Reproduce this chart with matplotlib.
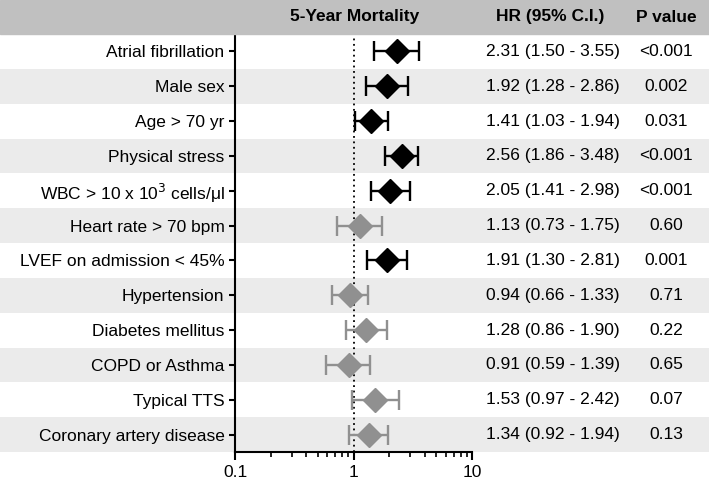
import numpy as np
import matplotlib.pyplot as plt
from matplotlib.patches import Rectangle
from matplotlib.transforms import blended_transform_factory

plt.rcParams['font.family'] = ['Liberation Sans', 'DejaVu Sans']

labels = ["Atrial fibrillation", "Male sex", "Age > 70 yr", "Physical stress",
          "WBC > 10 x 10$^3$ cells/μl", "Heart rate > 70 bpm", "LVEF on admission < 45%",
          "Hypertension", "Diabetes mellitus", "COPD or Asthma", "Typical TTS",
          "Coronary artery disease"]
hr = [2.31, 1.92, 1.41, 2.56, 2.05, 1.13, 1.91, 0.94, 1.28, 0.91, 1.53, 1.34]
lo = [1.50, 1.28, 1.03, 1.86, 1.41, 0.73, 1.30, 0.66, 0.86, 0.59, 0.97, 0.92]
hi = [3.55, 2.86, 1.94, 3.48, 2.98, 1.75, 2.81, 1.33, 1.90, 1.39, 2.42, 1.94]
pvals = ["<0.001", "0.002", "0.031", "<0.001", "<0.001", "0.60", "0.001",
         "0.71", "0.22", "0.65", "0.07", "0.13"]
signif = [True, True, True, True, True, False, True, False, False, False, False, False]

W, H = 709, 492
fs = 12.5
fig = plt.figure(figsize=(W/100, H/100), dpi=100)
ax = fig.add_axes([235/W, 1-452/H, 237/W, 418/H])

n = len(labels)
y = np.arange(1, n+1)

# header band
fig.patches.append(Rectangle((0, 1-34/H), 1, 34/H, transform=fig.transFigure,
                             color='#c0c0c0', zorder=0))
# alternating row bands
for i in range(n):
    if i % 2 == 1:
        ax.axhspan(y[i]-0.5, y[i]+0.5, xmin=-235/237, xmax=474/237 + 0.01,
                   color='#ebebeb', zorder=0, clip_on=False, lw=0)

ax.axvline(1, color='black', ls=(0, (1, 2)), lw=1.3, zorder=1)

for i in range(n):
    c = 'black' if signif[i] else '#909090'
    ax.errorbar(hr[i], y[i], xerr=[[hr[i]-lo[i]], [hi[i]-hr[i]]], fmt='D',
                color=c, ms=12, capsize=7, elinewidth=1.7, capthick=1.7, zorder=3)

ax.set_xscale('log')
ax.set_xlim(0.1, 10)
ax.set_ylim(n+0.5, 0.5)
ax.set_yticks(y)
ax.set_yticklabels(labels, fontsize=fs)
ax.set_xticks([0.1, 1, 10])
ax.set_xticklabels(["0.1", "1", "10"], fontsize=fs)
ax.tick_params(axis='x', which='major', length=6, width=1.5)
ax.tick_params(axis='x', which='minor', length=3.5, width=1.2)
ax.tick_params(axis='y', length=4, width=1.5)
for s in ['top', 'right']:
    ax.spines[s].set_visible(False)
for s in ['left', 'bottom']:
    ax.spines[s].set_linewidth(1.5)
ax.patch.set_alpha(0)

# header texts
fig.text(355/W, 1-17/H, "5-Year Mortality", fontsize=fs, fontweight='bold',
         ha='center', va='center')
fig.text(550/W, 1-17/H, "HR (95% C.I.)", fontsize=fs, fontweight='bold',
         ha='center', va='center')
fig.text(666/W, 1-17/H, "P value", fontsize=fs, fontweight='bold',
         ha='center', va='center')

tr = blended_transform_factory(fig.transFigure, ax.transData)
for i in range(n):
    ax.text(553/W, y[i], "%.2f (%.2f - %.2f)" % (hr[i], lo[i], hi[i]),
            transform=tr, fontsize=fs, ha='center', va='center')
    ax.text(666/W, y[i], pvals[i], transform=tr, fontsize=fs,
            ha='center', va='center')

fig.savefig("out.png", dpi=100)
